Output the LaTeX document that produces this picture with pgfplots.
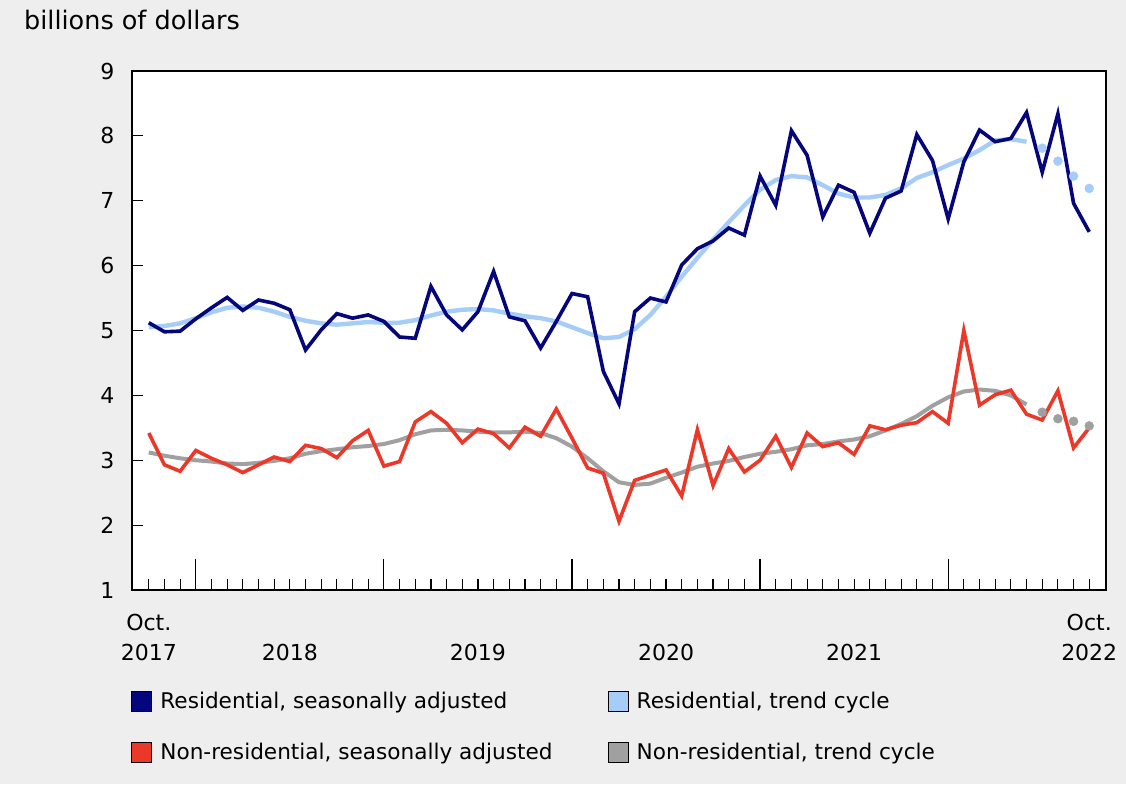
\documentclass[border=0pt]{standalone}
\usepackage{fontspec}
\setmainfont{DejaVu Sans}
\usepackage{pgfplots}
\pgfplotsset{compat=1.18}
\usepackage{pgfplotstable}

\definecolor{resSA}{RGB}{6,6,124}
\definecolor{resTC}{RGB}{166,204,248}
\definecolor{nonSA}{RGB}{236,56,40}
\definecolor{nonTC}{RGB}{160,160,160}
\definecolor{bg}{RGB}{238,238,238}

% m = months since Oct. 2017; resTCp/nonTCp = last trend points (dots)
\pgfplotstableread{
m  resSA resTC nonSA nonTC resTCp nonTCp
0  5.12  5.05  3.42  3.12  nan  nan
1  4.98  5.07  2.93  3.07  nan  nan
2  4.99  5.11  2.83  3.03  nan  nan
3  5.18  5.19  3.15  3.00  nan  nan
4  5.35  5.28  3.03  2.98  nan  nan
5  5.51  5.35  2.93  2.95  nan  nan
6  5.31  5.37  2.81  2.94  nan  nan
7  5.47  5.35  2.93  2.96  nan  nan
8  5.42  5.29  3.05  2.99  nan  nan
9  5.32  5.21  2.98  3.03  nan  nan
10 4.70  5.15  3.23  3.10  nan  nan
11 5.01  5.11  3.18  3.14  nan  nan
12 5.26  5.09  3.04  3.17  nan  nan
13 5.19  5.11  3.30  3.20  nan  nan
14 5.24  5.13  3.46  3.22  nan  nan
15 5.14  5.12  2.91  3.25  nan  nan
16 4.90  5.12  2.98  3.31  nan  nan
17 4.88  5.16  3.59  3.40  nan  nan
18 5.68  5.23  3.75  3.46  nan  nan
19 5.24  5.29  3.57  3.47  nan  nan
20 5.01  5.32  3.27  3.46  nan  nan
21 5.29  5.33  3.48  3.44  nan  nan
22 5.91  5.31  3.41  3.43  nan  nan
23 5.21  5.26  3.19  3.43  nan  nan
24 5.15  5.22  3.51  3.44  nan  nan
25 4.73  5.19  3.37  3.42  nan  nan
26 5.14  5.14  3.79  3.34  nan  nan
27 5.57  5.05  3.34  3.21  nan  nan
28 5.52  4.96  2.88  3.03  nan  nan
29 4.37  4.88  2.80  2.83  nan  nan
30 3.87  4.90  2.06  2.66  nan  nan
31 5.29  5.02  2.69  2.62  nan  nan
32 5.50  5.24  2.77  2.64  nan  nan
33 5.44  5.52  2.85  2.73  nan  nan
34 6.01  5.83  2.45  2.81  nan  nan
35 6.26  6.12  3.47  2.90  nan  nan
36 6.38  6.40  2.61  2.95  nan  nan
37 6.58  6.67  3.18  2.99  nan  nan
38 6.47  6.93  2.82  3.05  nan  nan
39 7.38  7.17  3.00  3.10  nan  nan
40 6.93  7.32  3.37  3.13  nan  nan
41 8.08  7.38  2.89  3.17  nan  nan
42 7.70  7.36  3.42  3.23  nan  nan
43 6.75  7.24  3.21  3.25  nan  nan
44 7.24  7.11  3.27  3.29  nan  nan
45 7.13  7.05  3.09  3.32  nan  nan
46 6.50  7.05  3.53  3.37  nan  nan
47 7.04  7.09  3.47  3.46  nan  nan
48 7.15  7.19  3.54  3.56  nan  nan
49 8.02  7.35  3.58  3.68  nan  nan
50 7.62  7.44  3.75  3.84  nan  nan
51 6.72  7.55  3.57  3.97  nan  nan
52 7.60  7.65  5.00  4.06  nan  nan
53 8.09  7.78  3.85  4.09  nan  nan
54 7.91  7.93  4.01  4.07  nan  nan
55 7.96  7.95  4.08  4.00  nan  nan
56 8.36  7.91  3.71  3.86  nan  nan
57 7.44  nan   3.62  nan   7.81 3.74
58 8.34  nan   4.07  nan   7.61 3.64
59 6.96  nan   3.19  nan   7.38 3.60
60 6.52  nan   3.50  nan   7.19 3.53
}\data

\newcommand\txt{\fontsize{21.6}{30}\selectfont}
\newcommand\tck{\fontsize{22}{30}\selectfont}

\begin{document}
\begin{tikzpicture}[font=\txt]
\useasboundingbox[fill=bg] (0,0) rectangle (1126pt,784pt);
\node[anchor=base west, inner sep=0pt, font=\fontsize{25.5}{30}\selectfont] at (24pt,754pt) {billions of dollars};
\begin{axis}[
  at={(132pt,194pt)}, anchor=south west,
  scale only axis, width=974pt, height=519pt,
  xmin=-1.07, xmax=61.07, ymin=1, ymax=9,
  axis background/.style={fill=white},
  axis line style={line width=2.6pt},
  tick pos=left, tick align=inside,
  ytick={1,...,9},
  major tick length=11pt, minor tick length=11pt,
  tick style={black, line width=1.2pt},
  xtick={3,15,27,39,51}, xticklabels={},
  xtick style={/pgfplots/major tick length=31pt},
  minor xtick={0,...,60},
  extra x ticks={0,9,21,33,45,60},
  extra x tick labels={{Oct.\\2017},{\vphantom{Oct.}\\2018},{\vphantom{Oct.}\\2019},{\vphantom{Oct.}\\2020},{\vphantom{Oct.}\\2021},{Oct.\\2022}},
  extra x tick style={xtick style={/pgfplots/major tick length=0pt, draw=none}, tick label style={align=center}},
  xticklabel style={font=\tck, yshift=-21pt},
  yticklabel style={font=\tck, xshift=-14pt},
  /pgf/number format/assume math mode=true,
  legend columns=2,
  legend cell align=left,
  legend style={at={(axis description cs:-0.001,-0.193)}, anchor=north west,
    draw=none, fill=none, inner sep=0pt, font=\txt, row sep=29pt,
    /tikz/every odd column/.append style={column sep=6pt},
    /tikz/every even column/.append style={column sep=53pt}},
]
\addlegendimage{legend image code/.code={\draw[black,line width=1.2pt,fill=resSA] (0pt,-10pt) rectangle (20pt,10pt);}}
\addlegendentry{Residential, seasonally adjusted}
\addlegendimage{legend image code/.code={\draw[black,line width=1.2pt,fill=resTC] (0pt,-10pt) rectangle (20pt,10pt);}}
\addlegendentry{Residential, trend cycle}
\addlegendimage{legend image code/.code={\draw[black,line width=1.2pt,fill=nonSA] (0pt,-10pt) rectangle (20pt,10pt);}}
\addlegendentry{Non-residential, seasonally adjusted}
\addlegendimage{legend image code/.code={\draw[black,line width=1.2pt,fill=nonTC] (0pt,-10pt) rectangle (20pt,10pt);}}
\addlegendentry{Non-residential, trend cycle}

\addplot[forget plot, nonTC, line width=4pt] table[x=m, y=nonTC] {\data};
\addplot[forget plot, only marks, mark=*, mark size=4.5pt, nonTC] table[x=m, y=nonTCp] {\data};
\addplot[forget plot, nonSA, line width=3.6pt] table[x=m, y=nonSA] {\data};
\addplot[forget plot, resTC, line width=4.4pt] table[x=m, y=resTC] {\data};
\addplot[forget plot, only marks, mark=*, mark size=4.5pt, resTC] table[x=m, y=resTCp] {\data};
\addplot[forget plot, resSA, line width=3.6pt] table[x=m, y=resSA] {\data};
\end{axis}
\end{tikzpicture}
\end{document}
